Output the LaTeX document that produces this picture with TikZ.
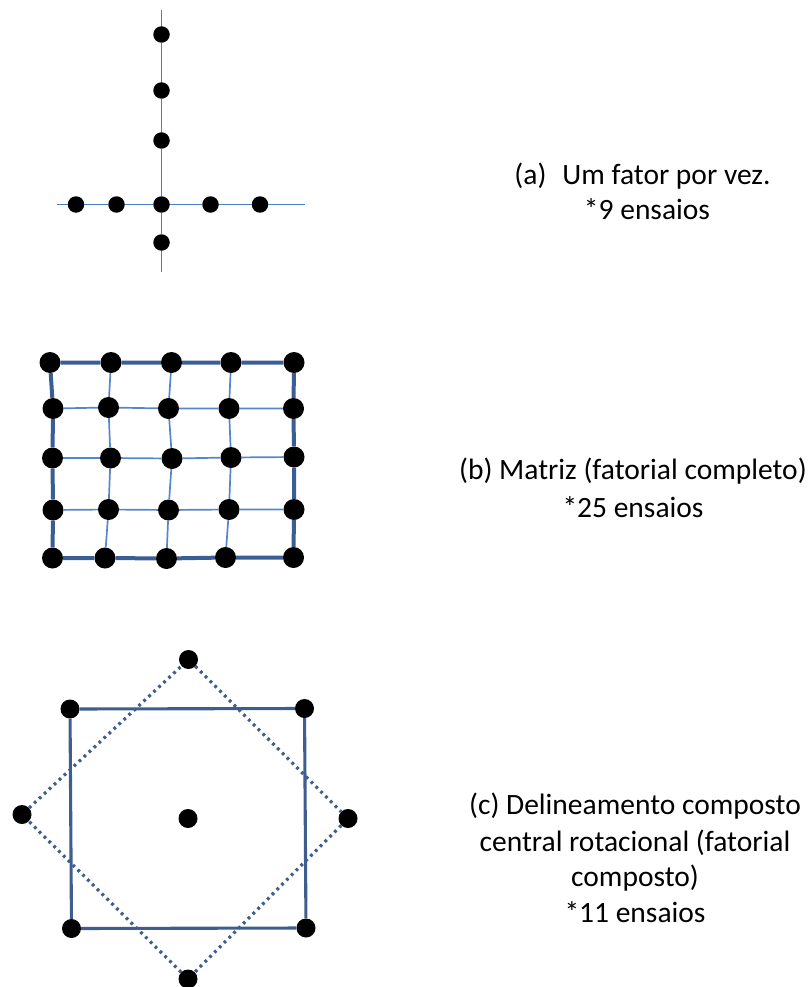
\documentclass[tikz,border=0pt]{standalone}
\usepackage{fontspec}
\setmainfont{Carlito}
\definecolor{axisblue}{RGB}{74,126,196}
\definecolor{gridthin}{RGB}{84,134,204}
\definecolor{gridthick}{RGB}{58,94,148}
\definecolor{ccdblue}{RGB}{62,94,142}
\begin{document}
\begin{tikzpicture}[x=1pt,y=-1pt,
  dota/.style={circle,fill=black,inner sep=0pt,minimum size=16.5pt},
  dotb/.style={circle,fill=black,inner sep=0pt,minimum size=21pt},
  dotc/.style={circle,fill=black,inner sep=0pt,minimum size=19pt},
  axisline/.style={draw=axisblue,line width=1.7pt},
  thinline/.style={draw=gridthin,line width=1.7pt},
  thickline/.style={draw=gridthick,line width=4pt},
  squareline/.style={draw=ccdblue,line width=3.1pt},
  diamline/.style={draw=ccdblue,line width=3.2pt,dash pattern=on 2.8pt off 4pt},
  lbl/.style={anchor=base,inner sep=0pt,font=\fontsize{29.5}{34}\selectfont}]
\useasboundingbox (0,0) rectangle (811,987);
% ---------- (a) ----------
\coordinate (vtop) at (161.5,10);
\coordinate (vbot) at (161.5,272);
\coordinate (hl) at (57,204.5);
\coordinate (hr) at (305,204.5);
\node[dota] (a1) at (161.5,34.5) {};
\node[dota] (a2) at (161.5,90.5) {};
\node[dota] (a3) at (161.5,140.5) {};
\node[dota] (a0) at (161.5,204.5) {};
\node[dota] (a4) at (161.5,242.5) {};
\node[dota] (h1) at (76,204.5) {};
\node[dota] (h2) at (116.5,204.5) {};
\node[dota] (h3) at (210.5,204.5) {};
\node[dota] (h4) at (260,204.5) {};
\draw[axisline] (vtop) -- (a1) -- (a2) -- (a3) -- (a0) -- (a4) -- (vbot);
\draw[axisline] (hl) -- (h1) -- (h2) -- (a0) -- (h3) -- (h4) -- (hr);
\node[lbl] (ta1) at (642.5,185) {(a)\hspace{16pt}Um fator por vez.};
\node[lbl] (ta2) at (647,219) {*9 ensaios};
% ---------- (b) ----------
\node[dotb] (g11) at (50,362.5) {};
\node[dotb] (g12) at (111,362.5) {};
\node[dotb] (g13) at (171.5,362.5) {};
\node[dotb] (g14) at (231,362.5) {};
\node[dotb] (g15) at (294,362.5) {};
\node[dotb] (g21) at (53,408.5) {};
\node[dotb] (g22) at (108.5,407.5) {};
\node[dotb] (g23) at (168.5,408.5) {};
\node[dotb] (g24) at (229,408.5) {};
\node[dotb] (g25) at (293.5,408.5) {};
\node[dotb] (g31) at (52.5,458) {};
\node[dotb] (g32) at (110.5,458) {};
\node[dotb] (g33) at (172,458.5) {};
\node[dotb] (g34) at (231,457.5) {};
\node[dotb] (g35) at (294,457) {};
\node[dotb] (g41) at (53,510) {};
\node[dotb] (g42) at (108.5,509.5) {};
\node[dotb] (g43) at (168.5,510) {};
\node[dotb] (g44) at (229,509.5) {};
\node[dotb] (g45) at (294,509.5) {};
\node[dotb] (g51) at (52.5,558) {};
\node[dotb] (g52) at (105,558) {};
\node[dotb] (g53) at (166.5,558.5) {};
\node[dotb] (g54) at (225.5,557.5) {};
\node[dotb] (g55) at (293.5,557.5) {};
\draw[thinline] (g21) -- (g22) -- (g23) -- (g24) -- (g25);
\draw[thinline] (g31) -- (g32) -- (g33) -- (g34) -- (g35);
\draw[thinline] (g41) -- (g42) -- (g43) -- (g44) -- (g45);
\draw[thinline] (g12) -- (g22) -- (g32) -- (g42) -- (g52);
\draw[thinline] (g13) -- (g23) -- (g33) -- (g43) -- (g53);
\draw[thinline] (g14) -- (g24) -- (g34) -- (g44) -- (g54);
\draw[thickline] (g11) -- (g12) -- (g13) -- (g14) -- (g15) -- (g25) -- (g35) -- (g45) -- (g55)
  -- (g54) -- (g53) -- (g52) -- (g51) -- (g41) -- (g31) -- (g21) -- (g11);
\node[lbl] (tb1) at (633,479) {(b) Matriz (fatorial completo)};
\node[lbl] (tb2) at (633,517) {*25 ensaios};
% ---------- (c) ----------
\node[dotc] (c1) at (70,709) {};
\node[dotc] (c2) at (304.5,708.5) {};
\node[dotc] (c3) at (306,928) {};
\node[dotc] (c4) at (71.5,928.5) {};
\node[dotc] (ct) at (188.5,659.5) {};
\node[dotc] (cr) at (348,818.5) {};
\node[dotc] (cb) at (188,979) {};
\node[dotc] (cl) at (22,814.5) {};
\node[dotc] (cc) at (188,818.5) {};
\draw[squareline] (c1) -- (c2) -- (c3) -- (c4) -- (c1);
\draw[diamline] (ct) -- (cr) -- (cb) -- (cl) -- (ct);
\node[lbl] (tc1) at (635,814) {(c) Delineamento composto};
\node[lbl] (tc2) at (635,851) {central rotacional (fatorial};
\node[lbl] (tc3) at (635,886) {composto)};
\node[lbl] (tc4) at (635,922) {*11 ensaios};
\end{tikzpicture}
\end{document}
